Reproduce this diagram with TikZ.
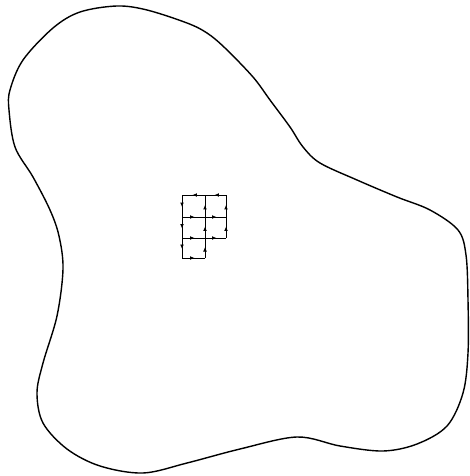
\documentclass[tikz,border=0pt]{standalone}
\usepackage{tikz}
\usetikzlibrary{arrows.meta, decorations.markings}

\begin{document}
\begin{tikzpicture}[x=1pt, y=-1pt, >=Latex,
  region/.style={line width=1.4pt, line join=round},
  edge/.style={line width=0.9pt, postaction={decorate},
    decoration={markings, mark=at position 0.55 with {\arrow{Latex[length=4.5pt,width=3.8pt]}}}}]

  \useasboundingbox (0,0) rectangle (469,476);

  % the region
  \draw[region] plot[smooth cycle, tension=0.55] coordinates {
    (117,6) (147,10) (187,23) (207,33) (225,48) (253,77) (270,100) (290,127)
    (303,147) (320,163) (357,180) (397,197) (430,210) (458,230) (466,255)
    (468,300) (468,353) (463,393) (447,426) (417,444) (383,451) (340,446)
    (297,437) (240,449) (187,463) (143,473) (100,466) (67,449) (43,423)
    (37,393) (43,363) (57,316) (63,269) (59,236) (50,210) (33,177) (15,147)
    (9,110) (10,90) (23,60) (53,28) (80,12)};

  % grid corners
  \foreach \i/\x in {0/182, 1/205, 2/226}
    \foreach \j/\y in {0/195, 1/217, 2/238, 3/258}
      \coordinate (p\i\j) at (\x,\y);

  % oriented cell edges
  \foreach \a/\b in {p20/p10, p10/p00, p00/p01, p01/p02, p02/p03, p03/p13,
                     p13/p12, p12/p11, p11/p10, p22/p21, p21/p20,
                     p02/p12, p12/p22, p01/p11, p11/p21}
    \draw[edge] (\a) -- (\b);
\end{tikzpicture}
\end{document}
